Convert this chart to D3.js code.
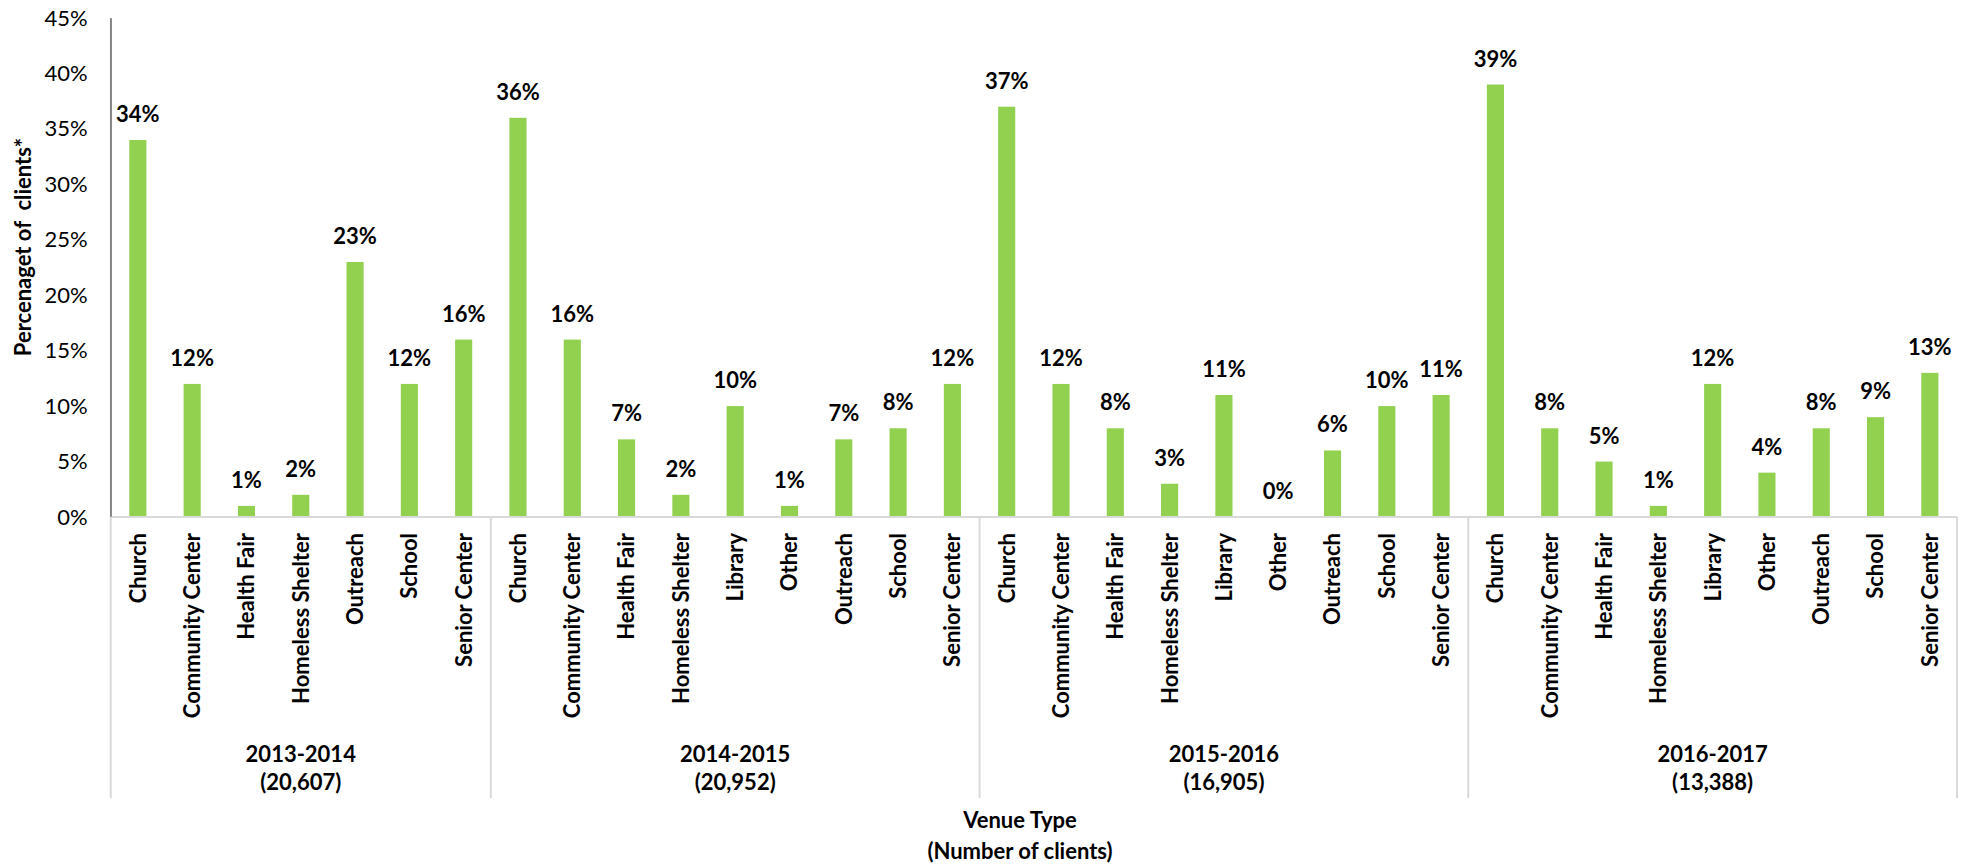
<!DOCTYPE html>
<html>
<head>
<meta charset="utf-8">
<script src="https://cdn.jsdelivr.net/npm/d3@7"></script>
<style>
  html, body { margin: 0; padding: 0; background: #fff; }
  svg { display: block; font-family: Lato, "Noto Sans", sans-serif; }
  .tick-label { font-size: 22px; fill: #000; }
  .bold { font-weight: bold; font-size: 22px; fill: #000; }
</style>
</head>
<body>
<svg id="chart" width="1970" height="867"></svg>
<script>
// Fiscal-year groups with number of clients served
const years = ["2013-2014", "2014-2015", "2015-2016", "2016-2017"];
const clientCounts = ["(20,607)", "(20,952)", "(16,905)", "(13,388)"];

// Venue types reported in each year
const venues2013 = ["Church", "Community Center", "Health Fair", "Homeless Shelter", "Outreach", "School", "Senior Center"];
const venues2014 = ["Church", "Community Center", "Health Fair", "Homeless Shelter", "Library", "Other", "Outreach", "School", "Senior Center"];
const venues2015 = ["Church", "Community Center", "Health Fair", "Homeless Shelter", "Library", "Other", "Outreach", "School", "Senior Center"];
const venues2016 = ["Church", "Community Center", "Health Fair", "Homeless Shelter", "Library", "Other", "Outreach", "School", "Senior Center"];

// Percentage of clients per venue
const pct2013 = [34, 12, 1, 2, 23, 12, 16];
const pct2014 = [36, 16, 7, 2, 10, 1, 7, 8, 12];
const pct2015 = [37, 12, 8, 3, 11, 0, 6, 10, 11];
const pct2016 = [39, 8, 5, 1, 12, 4, 8, 9, 13];

const yTicks = [0, 5, 10, 15, 20, 25, 30, 35, 40, 45];

const venueLists = [venues2013, venues2014, venues2015, venues2016];
const pctLists = [pct2013, pct2014, pct2015, pct2016];

// Flatten into one row per bar
const rows = [];
venueLists.forEach((list, g) => {
  list.forEach((v, i) => rows.push({ key: g + "|" + v, group: g, venue: v, value: pctLists[g][i] }));
});

const svg = d3.select("#chart");
const plotLeft = 110.7, plotRight = 1957, plotTop = 18, plotBottom = 517;

const x = d3.scaleBand()
  .domain(rows.map(d => d.key))
  .range([plotLeft, plotRight])
  .paddingInner(0.685)
  .paddingOuter(0.3425);

const y = d3.scaleLinear().domain([0, 45]).range([plotBottom, plotTop]);

const step = x.step();
const slotLeft = key => x(key) - step * 0.3425;

// Bars
svg.append("g").selectAll("rect").data(rows).join("rect")
  .attr("x", d => x(d.key))
  .attr("y", d => y(d.value))
  .attr("width", x.bandwidth())
  .attr("height", d => y(0) - y(d.value))
  .attr("fill", "#92D050");

// Value labels
svg.append("g").selectAll("text").data(rows).join("text")
  .attr("class", "bold")
  .attr("x", d => x(d.key) + x.bandwidth() / 2)
  .attr("y", d => y(d.value) - 18)
  .attr("text-anchor", "middle")
  .text(d => d.value + "%");

// Y axis
const yAxis = d3.axisLeft(y).tickValues(yTicks).tickSize(0).tickPadding(23).tickFormat(d => d + "%");
const yg = svg.append("g").attr("transform", `translate(${plotLeft},0)`).call(yAxis);
yg.select(".domain").attr("stroke", "#868686").attr("stroke-width", 1.5);
yg.selectAll(".tick text").attr("class", "tick-label").attr("fill", "#000").style("font-size", "22px").style("font-family", "Lato");

// X axis baseline
svg.append("line")
  .attr("x1", plotLeft).attr("x2", plotRight)
  .attr("y1", y(0)).attr("y2", y(0))
  .attr("stroke", "#D9D9D9").attr("stroke-width", 2);

// Group separators
const groupStarts = [];
let idx = 0;
venueLists.forEach(list => { groupStarts.push(idx); idx += list.length; });
const boundaries = groupStarts.map(i => slotLeft(rows[i].key)).concat([plotRight]);
svg.append("g").selectAll("line").data(boundaries).join("line")
  .attr("x1", d => d).attr("x2", d => d)
  .attr("y1", y(0)).attr("y2", 798)
  .attr("stroke", "#D9D9D9").attr("stroke-width", 2);

// Re-draw the y axis line over the separator at the left edge
svg.append("line")
  .attr("x1", plotLeft).attr("x2", plotLeft)
  .attr("y1", plotTop).attr("y2", plotBottom)
  .attr("stroke", "#868686").attr("stroke-width", 1.5);

// Category labels, rotated
svg.append("g").selectAll("text").data(rows).join("text")
  .attr("class", "bold")
  .attr("transform", d => `translate(${x(d.key) + x.bandwidth() / 2},533) rotate(-90)`)
  .attr("dy", "0.36em")
  .attr("text-anchor", "end")
  .text(d => d.venue);

// Group labels
years.forEach((yr, g) => {
  const cx = (boundaries[g] + boundaries[g + 1]) / 2;
  svg.append("text").attr("class", "bold").attr("x", cx).attr("y", 762).attr("text-anchor", "middle").text(yr);
  svg.append("text").attr("class", "bold").attr("x", cx).attr("y", 790).attr("text-anchor", "middle").text(clientCounts[g]);
});

// Axis titles
svg.append("text").attr("class", "bold").attr("x", 1020).attr("y", 828).attr("text-anchor", "middle").text("Venue Type");
svg.append("text").attr("class", "bold").attr("x", 1020).attr("y", 859).attr("text-anchor", "middle").text("(Number of clients)");

svg.append("text").attr("class", "bold")
  .attr("transform", "translate(31,247) rotate(-90)")
  .attr("text-anchor", "middle")
  .style("white-space", "pre")
  .text("Percenaget of  clients*");
</script>
</body>
</html>
